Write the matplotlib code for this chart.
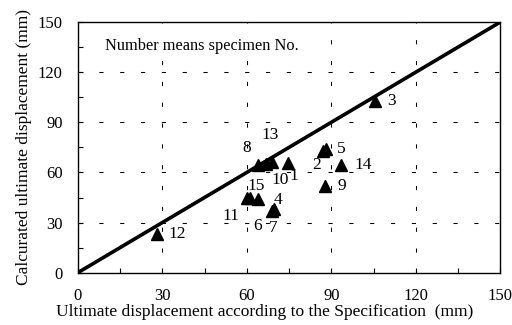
import numpy as np
import matplotlib
matplotlib.use("Agg")
import matplotlib.pyplot as plt

# specimen No., specification displacement (x), calculated displacement (y)
specimen = ["1", "2", "3", "4", "5", "6", "7", "8", "9", "10", "11", "12", "13", "14", "15"]
spec_disp = [74.5, 87.0, 105.5, 69.5, 88.0, 64.0, 69.0, 64.0, 87.7, 67.0, 60.0, 28.0, 69.0, 93.3, 61.0]
calc_disp = [65.6, 73.0, 103.0, 38.0, 74.0, 44.0, 37.0, 64.5, 51.6, 65.0, 44.5, 23.0, 66.0, 64.6, 45.0]

# label offsets in points (layout only)
label_off = [(4.5, -9.5), (-4.5, -10), (12, 0), (3, 6.5), (11.5, 0), (0, -19.5), (1, -12),
             (-8, 12.5), (12, 0), (9.5, -11.5), (-11.5, -12.5), (15, 0), (-1.5, 19.5),
             (16, 0), (5, 8.5)]

plt.rcParams["font.family"] = ["Liberation Serif", "DejaVu Serif"]

fig = plt.figure(figsize=(5.12, 3.25), dpi=100)
ax = fig.add_axes([0.152, 0.161, 0.825, 0.771])

ax.plot([0, 150], [0, 150], color="black", lw=2.6, solid_capstyle="butt", zorder=3)
ax.plot(spec_disp, calc_disp, linestyle="none", marker="^", color="black",
        markersize=8.5, zorder=4)

for s, x, y, off in zip(specimen, spec_disp, calc_disp, label_off):
    ax.annotate(s, (x, y), xytext=off, textcoords="offset points",
                ha="center", va="center", fontsize=12.5, zorder=5)

ax.text(9.7, 135.4, "Number means specimen No.", fontsize=11.8, ha="left", va="center",
        zorder=5, bbox=dict(facecolor="white", edgecolor="none", pad=1))

ax.set_xlim(0, 150)
ax.set_ylim(0, 150)
ax.set_xticks(np.arange(0, 151, 30))
ax.set_yticks(np.arange(0, 151, 30))
ax.set_xticks(np.arange(0, 151, 15), minor=True)
ax.set_yticks(np.arange(0, 151, 15), minor=True)
ax.tick_params(which="both", direction="in", length=3.5, width=0.8, labelsize=12)
ax.tick_params(axis="x", pad=11)
ax.tick_params(axis="y", pad=11)

for v in range(30, 150, 30):
    ax.axhline(v, color="black", lw=0.75, linestyle=(0, (4, 16)), zorder=1)
    ax.axvline(v, color="black", lw=0.75, linestyle=(0, (4, 16)), zorder=1)

for sp in ax.spines.values():
    sp.set_linewidth(1.0)

ax.set_xlabel("Ultimate displacement according to the Specification  (mm)", fontsize=12.5)
ax.xaxis.set_label_coords(0.443, -0.125)
ax.set_ylabel("Calcurated ultimate displacement (mm)", fontsize=12.5, labelpad=4)

fig.savefig("out.png", dpi=100)
